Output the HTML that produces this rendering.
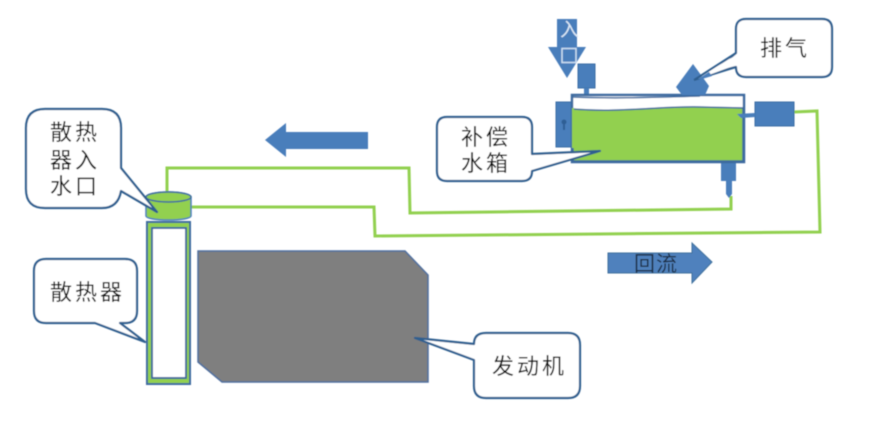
<!DOCTYPE html>
<html><head><meta charset="utf-8">
<style>
html,body{margin:0;padding:0;background:#fff;width:888px;height:425px;overflow:hidden}
svg{display:block}
text{font-family:"Liberation Sans","Noto Sans CJK SC",sans-serif;font-size:22px;fill:#111;letter-spacing:3px}
</style></head><body>
<svg width="888" height="425" viewBox="0 0 888 425" xmlns="http://www.w3.org/2000/svg">
<defs><filter id="b" x="-5%" y="-5%" width="110%" height="110%"><feGaussianBlur stdDeviation="0.6"/></filter></defs>
<rect width="888" height="425" fill="#fff"/>
<g filter="url(#b)">
<!-- green pipes -->
<g fill="none" stroke="#92d050" stroke-width="3">
<polyline points="167,192 167,168 409,168 410,213 731,209 731,196"/>
<polyline points="190,207 374,207 375,236 820,232 817,111 794,112"/>
</g>
<!-- big arrows -->
<polygon points="265,140 286,123 286,132 368,132 368,149 286,149 286,157" fill="#4a7ebb"/>
<polygon points="608,253 692,253 692,243 712,262 692,283 692,273 608,273" fill="#4f81bd" stroke="#41719c"/>
<polygon points="557,19 577,19 577,47 586,47 567,78 548,47 557,47" fill="#4a7ebb"/>
<!-- tank fittings -->
<rect x="556" y="102" width="16" height="45" fill="#4a7ebb" stroke="#3a6ea5"/>
<rect x="578" y="64" width="17" height="24" fill="#4a7ebb" stroke="#3a6ea5"/>
<rect x="584" y="88" width="5" height="9" fill="#4a7ebb"/>
<rect x="755" y="102" width="39" height="24" fill="#4a7ebb" stroke="#3a6ea5"/>
<rect x="721" y="162" width="15" height="19" fill="#4a7ebb"/>
<polygon points="726,181 732,181 732,194 729,198 726,194" fill="#4a7ebb"/>
<!-- tank -->
<rect x="572" y="95" width="172" height="67" fill="#fff" stroke="#3c6a9f" stroke-width="2.5"/>
<path d="M573,109 C620,113 660,106 700,107 L743,108 L743,161 L573,161 Z" fill="#92d050" stroke="#3c6a9f" stroke-width="1.5"/>
<path d="M573,97 C620,99 660,97 700,96" fill="none" stroke="#3c6a9f" stroke-width="1.5"/>
<rect x="572" y="108" width="2" height="40" fill="#92d050"/>
<polygon points="737,114 755,113 755,117 741,118" fill="#4a7ebb"/>
<circle cx="564" cy="122" r="2.5" fill="#2f5f95"/><rect x="563" y="122" width="2" height="8" fill="#2f5f95"/>
<!-- white text on arrow -->
<text x="560" y="36" style="fill:#dbe8f5;font-size:19px;letter-spacing:0">入</text>
<rect x="562" y="48.500" width="14" height="14" fill="none" stroke="#cfe0f2" stroke-width="1.500"/>
<!-- radiator cap -->
<path d="M146,197 A22.500,5 0 0 1 191,197 L191,216 A22.500,4 0 0 1 146,216 Z" fill="#92d050" stroke="#4a7ebb" stroke-width="1.500"/>
<ellipse cx="168.500" cy="197" rx="22.500" ry="5" fill="#92d050" stroke="#3c6a9f" stroke-width="1.500"/>
<!-- radiator -->
<rect x="147" y="222" width="43" height="162" fill="#92d050" stroke="#3c6a9f" stroke-width="2"/>
<rect x="152" y="228" width="34" height="150" fill="#fff" stroke="#3c6a9f" stroke-width="2"/>
<!-- engine -->
<polygon points="198,251 405,251 428,275 428,382 222,382 198,362" fill="#7f7f7f" stroke="#4f6f9f" stroke-width="1.500"/>
<!-- callouts -->
<g fill="#fff" stroke="#2f5f8f" stroke-width="2.200" stroke-linejoin="round">
<path d="M45,109 H102 Q121,109 121,128 V168 L157,212 L121,191 Q118,208 102,208 H45 Q26,208 26,189 V128 Q26,109 45,109 Z"/>
<path d="M46,259 H125 Q137,259 137,271 V311 Q137,323 125,323 H120 L145,342 L95,323 H46 Q34,323 34,311 V271 Q34,259 46,259 Z"/>
<path d="M486,333 H568 Q580,333 580,345 V386 Q580,398 568,398 H486 Q474,398 474,386 V360 L415,338 L474,344 Q474,333 486,333 Z"/>
<path d="M746,19 H822 Q832,19 832,29 V67 Q832,77 822,77 H746 Q736,77 736,67 L712,73 L736,53 V29 Q736,19 746,19 Z"/>
<path d="M447,117 H522 Q532,117 532,127 V154 L600,151 L532,171 Q532,181 522,181 H447 Q437,181 437,171 V127 Q437,117 447,117 Z"/>
</g>
<!-- vent drawn over its callout tail -->
<polygon points="693,64 709,86 705,95 682,95 676,87" fill="#4a7ebb"/>
<path d="M694,80 L736,53 M694,80 L736,67" fill="none" stroke="#2f5f8f" stroke-width="2"/>
<polygon points="698,79 729,59 736,56 736,65" fill="#fff"/>
<polygon points="698,79 709,72 712,76 702,79" fill="#4a7ebb"/>
<!-- labels -->
<text x="50" y="140">散热</text>
<text x="50" y="168">器入</text>
<text x="50" y="194">水口</text>
<text x="50" y="300">散热器</text>
<text x="492" y="374">发动机</text>
<text x="760" y="56">排气</text>
<text x="461" y="145">补偿</text>
<text x="461" y="171">水箱</text>
<text x="634" y="271" style="font-size:21px;letter-spacing:1px;fill:#1f2f45">回流</text>
</g>
</svg>
</body></html>
